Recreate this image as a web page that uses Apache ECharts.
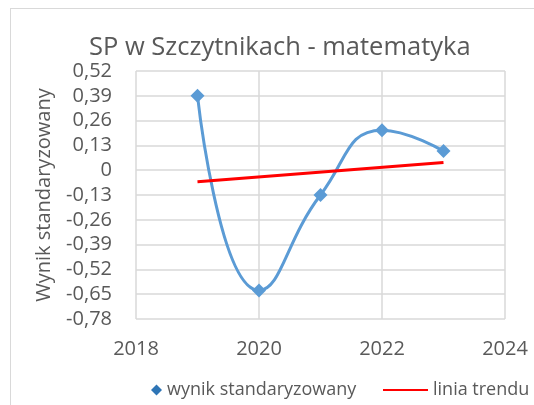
<!DOCTYPE html>
<html lang="pl">
  <head>
    <meta charset="UTF-8" />
    <title>SP w Szczytnikach - matematyka</title>
    <script src="https://cdn.jsdelivr.net/npm/echarts@6/dist/echarts.min.js"></script>
    <style>
      html,
      body {
        margin: 0;
        padding: 0;
        width: 534px;
        height: 405px;
        background: #fff;
        overflow: hidden;
      }
      .frame {
        position: absolute;
        left: 10px;
        top: 8px;
        width: 540px;
        height: 420px;
        border: 1px solid #d9d9d9;
      }
      #chart {
        position: absolute;
        left: 0;
        top: 0;
        width: 534px;
        height: 405px;
      }
    </style>
  </head>
  <body>
    <div class="frame"></div>
    <div id="chart"></div>
    <script>
      const years = [2019, 2020, 2021, 2022, 2023];
      const wynik = [0.39, -0.63, -0.13, 0.21, 0.1];
      const trendYears = [2019, 2023];
      const trend = [-0.06, 0.04];

      const font = "'Open Sans', 'Noto Sans', sans-serif";
      const grey = "#595959";
      const chart = echarts.init(document.getElementById("chart"));

      const option = {
        animation: false,
        title: {
          text: "SP w Szczytnikach - matematyka",
          left: 84,
          top: 30,
          textStyle: { fontFamily: font, fontSize: 25.5, fontWeight: "normal", color: grey },
        },
        legend: [
          {
            left: 146,
            top: 376,
            itemWidth: 11,
            itemHeight: 11,
            textStyle: { fontFamily: font, fontSize: 18, color: grey },
            data: [{ name: "wynik standaryzowany", icon: "diamond", itemStyle: { color: "#2e75b6" } }],
          },
          {
            left: 378,
            top: 376,
            itemWidth: 45,
            itemHeight: 2,
            textStyle: { fontFamily: font, fontSize: 18, color: grey },
            data: [{ name: "linia trendu", icon: "rect", itemStyle: { color: "#ff0000" } }],
          },
        ],
        grid: { left: 136, right: 29, top: 71, bottom: 86 },
        xAxis: {
          type: "value",
          min: 2018,
          max: 2024,
          interval: 2,
          axisLine: { show: false },
          axisTick: { show: false },
          splitLine: { lineStyle: { color: "#d9d9d9", width: 1.5 } },
          axisLabel: {
            fontFamily: font,
            fontSize: 20,
            color: grey,
            margin: 20,
            formatter: (v) => String(v),
          },
        },
        yAxis: {
          type: "value",
          min: -0.78,
          max: 0.52,
          interval: 0.13,
          name: "Wynik standaryzowany",
          nameLocation: "middle",
          nameGap: 82,
          nameTextStyle: { fontFamily: font, fontSize: 20, color: grey },
          axisLine: { show: false },
          axisTick: { show: false },
          splitLine: { lineStyle: { color: "#d9d9d9", width: 1.5 } },
          axisLabel: {
            fontFamily: font,
            fontSize: 20,
            color: grey,
            margin: 24,
            formatter: (v) => (Math.abs(v) < 1e-9 ? "0" : v.toFixed(2).replace(".", ",")),
          },
        },
        series: [
          {
            name: "wynik standaryzowany",
            type: "line",
            smooth: 0.5,
            symbol: "diamond",
            symbolSize: 14,
            data: years.map((y, i) => [y, wynik[i]]),
            lineStyle: { color: "#5b9bd5", width: 3 },
            itemStyle: { color: "#5b9bd5" },
          },
          {
            name: "linia trendu",
            type: "line",
            symbol: "none",
            data: trendYears.map((y, i) => [y, trend[i]]),
            lineStyle: { color: "#ff0000", width: 3 },
            itemStyle: { color: "#ff0000" },
          },
        ],
      };

      chart.setOption(option);
    </script>
  </body>
</html>
